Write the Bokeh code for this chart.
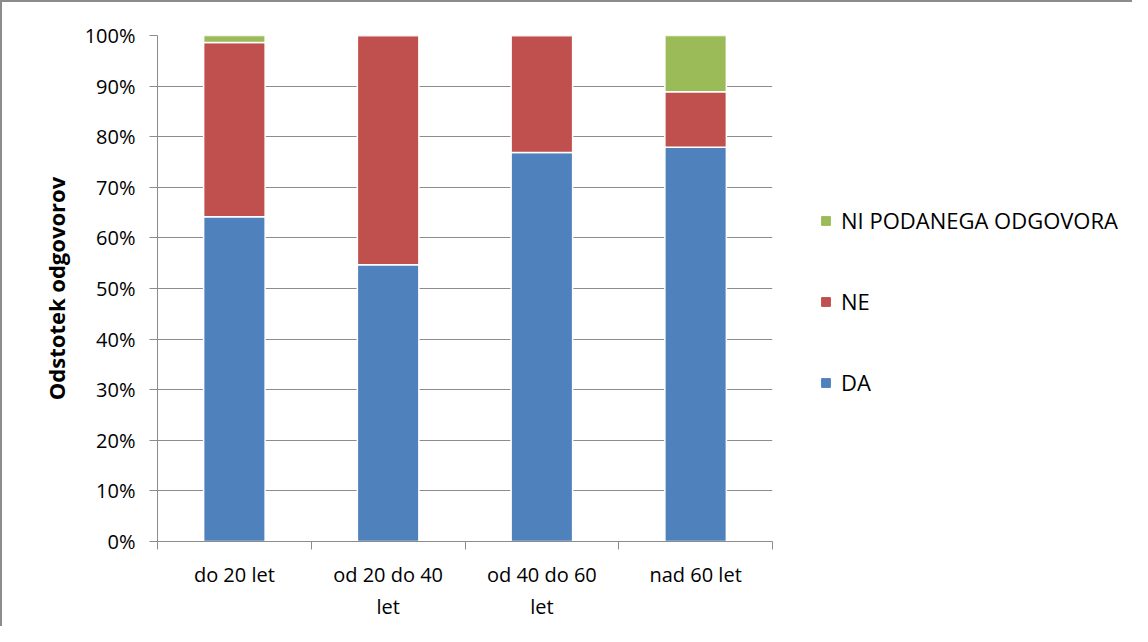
from bokeh.plotting import figure
from bokeh.layouts import row
from bokeh.models import (LinearAxis, FixedTicker, Legend, LegendItem, FactorRange,
                          Range1d, NumeralTickFormatter, ColumnDataSource, Grid)
from bokeh.embed import file_html
from bokeh.resources import INLINE

categories = ["do 20 let", "od 20 do 40 let", "od 40 do 60 let", "nad 60 let"]
category_labels = ["do 20 let", "od 20 do 40\nlet", "od 40 do 60\nlet", "nad 60 let"]
series = ["DA", "NE", "NI PODANEGA ODGOVORA"]
da = [0.642, 0.547, 0.769, 0.779]
ne = [0.344, 0.453, 0.231, 0.110]
ni = [0.014, 0.000, 0.000, 0.111]
colors = ["#4F81BD", "#C0504D", "#9BBB59"]
y_ticks = [0.0, 0.1, 0.2, 0.3, 0.4, 0.5, 0.6, 0.7, 0.8, 0.9, 1.0]

FONT = "Open Sans"
GRID = "#8c8c8c"

source = ColumnDataSource(data=dict(cat=categories, DA=da, NE=ne, NI=ni))

p = figure(x_range=FactorRange(*categories, range_padding=0, factor_padding=0),
           y_range=Range1d(0, 1),
           width=775, height=624, output_backend="svg", toolbar_location=None,
           x_axis_type=None, y_axis_type=None,
           min_border_left=155, min_border_right=5, min_border_top=33,
           min_border_bottom=85)
p.outline_line_color = None
p.background_fill_color = "white"
p.border_fill_color = "white"

renderers = p.vbar_stack(["DA", "NE", "NI"], x="cat", width=0.4, source=source,
                         color=colors, line_color="white", line_width=1.5)

# y axis
yaxis = LinearAxis(ticker=FixedTicker(ticks=y_ticks, minor_ticks=[]),
                   formatter=NumeralTickFormatter(format="0%"))
yaxis.axis_label = "Odstotek odgovorov"
yaxis.axis_label_text_font = FONT
yaxis.axis_label_text_font_style = "bold"
yaxis.axis_label_text_font_size = "22px"
yaxis.axis_label_text_color = "#000000"
yaxis.axis_label_standoff = 11
yaxis.major_label_text_font = FONT
yaxis.major_label_text_font_size = "20px"
yaxis.major_label_text_color = "#000000"
yaxis.major_label_standoff = 14
yaxis.major_tick_out = 8
yaxis.major_tick_in = 0
yaxis.major_tick_line_color = GRID
yaxis.axis_line_color = GRID
yaxis.minor_tick_line_color = None
p.add_layout(yaxis, "left")

# x axis: labels at category centres, ticks at category boundaries
n = len(categories)
centers = [i + 0.5 for i in range(n)]
bounds = [float(i) for i in range(n + 1)]
xaxis = LinearAxis(ticker=FixedTicker(ticks=centers, minor_ticks=bounds))
xaxis.major_label_overrides = {c: lab for c, lab in zip(centers, category_labels)}
xaxis.major_label_text_font = FONT
xaxis.major_label_text_font_size = "20px"
xaxis.major_label_text_color = "#000000"
xaxis.major_label_standoff = 11
xaxis.major_tick_line_color = None
xaxis.major_tick_out = 0
xaxis.major_tick_in = 0
xaxis.minor_tick_line_color = GRID
xaxis.minor_tick_out = 8
xaxis.minor_tick_in = 0
xaxis.axis_line_color = GRID
p.add_layout(xaxis, "below")

grid = Grid(dimension=1, ticker=yaxis.ticker, grid_line_color=GRID, grid_line_width=1)
p.add_layout(grid)

# legend panel (hidden renderers of the same data; only the legend is drawn)
lp = figure(width=355, height=624, output_backend="svg", toolbar_location=None,
            x_axis_type=None, y_axis_type=None,
            x_range=FactorRange(*categories), y_range=Range1d(0, 1),
            min_border=0)
lp.outline_line_color = None
lp.xgrid.visible = False
lp.ygrid.visible = False
lp.border_fill_color = "white"
lp.background_fill_color = "white"
lrs = lp.vbar_stack(["DA", "NE", "NI"], x="cat", width=0.4, source=source, color=colors)
for r in lrs:
    r.visible = False
items = [LegendItem(label=series[i], renderers=[lrs[i]]) for i in [2, 1, 0]]
legend = Legend(items=items, location=(43, 144), orientation="vertical",
                label_text_font=FONT, label_text_font_size="22px",
                label_text_color="#000000", glyph_width=11, glyph_height=11,
                label_height=20, label_standoff=10, spacing=51, padding=0, margin=0,
                border_line_color=None, background_fill_alpha=0,
                inactive_fill_alpha=0)
lp.add_layout(legend, "center")

layout = row(p, lp, spacing=0)
layout.styles = {"border-left": "2px solid #8c8c8c", "border-top": "2px solid #8c8c8c"}

open("out.html", "w").write(file_html(layout, INLINE))
